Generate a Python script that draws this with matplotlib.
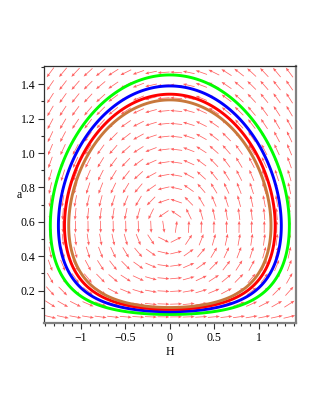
import numpy as np
import matplotlib
matplotlib.use("Agg")
import matplotlib.pyplot as plt
from matplotlib.ticker import MultipleLocator, FuncFormatter

# ---- data ----
# system: H' = k*(c - a^2), a' = a*H   (direction field)
k_coef = 1.55
c_coef = 1.0 / 3.0
# orbits: value of a at the top of each closed orbit (H = 0)
orbit_a_top = [1.454, 1.39, 1.342, 1.309]
orbit_colors = ["#00ff00", "#0000ff", "#ff0000", "#c8783c"]
x_range = (-1.415, 1.415)
y_range = (0.01, 1.506)
n_arrows = 20
x_ticks_major = [-1.0, -0.5, 0.0, 0.5, 1.0]
y_ticks_major = [0.2, 0.4, 0.6, 0.8, 1.0, 1.2, 1.4]

W, Hh = 321, 415
fig = plt.figure(figsize=(W / 100, Hh / 100), dpi=100)
left, right, top, bottom = 44 / W, 295.7 / W, 1 - 66 / Hh, 1 - 323.3 / Hh
ax = fig.add_axes([left, bottom, right - left, top - bottom])
ax.set_xlim(*x_range)
ax.set_ylim(*y_range)

# direction field
dx = (x_range[1] - x_range[0]) / n_arrows
dy = (y_range[1] - y_range[0]) / n_arrows
xs = x_range[0] + dx * (np.arange(n_arrows) + 0.5)
ys = y_range[0] + dy * (np.arange(n_arrows) + 0.5)
X, Y = np.meshgrid(xs, ys)
U = k_coef * (c_coef - Y ** 2)
V = Y * X
sx = (right - left) * W / (x_range[1] - x_range[0])
sy = (top - bottom) * Hh / (y_range[1] - y_range[0])
Us, Vs = U * sx, V * sy
nrm = np.hypot(Us, Vs)
nrm[nrm == 0] = 1
ax.quiver(X, Y, Us / nrm, Vs / nrm, angles="uv", scale_units="dots", scale=1 / 12,
          pivot="mid", color="#ff4444", alpha=0.85, width=0.75, units="dots",
          headwidth=4.0, headlength=5.0, headaxislength=4.6, zorder=1)

# orbits (level sets of the conserved quantity)
def energy(h, a):
    return h ** 2 / 2 - k_coef * (c_coef * np.log(a) - a ** 2 / 2)

hg = np.linspace(x_range[0], x_range[1], 900)
ag = np.linspace(0.02, y_range[1], 900)
HG, AG = np.meshgrid(hg, ag)
E = energy(HG, AG)
for at, col in zip(orbit_a_top, orbit_colors):
    ax.contour(HG, AG, E, levels=[energy(0.0, at)], colors=[col], linewidths=2.1, zorder=3)

# axes styling
for s in ["left", "top"]:
    ax.spines[s].set_color("#303030")
    ax.spines[s].set_linewidth(0.9)
for s in ["right", "bottom"]:
    ax.spines[s].set_color("#808080")
    ax.spines[s].set_linewidth(1.6)

ax.xaxis.set_major_locator(plt.FixedLocator(x_ticks_major))
ax.xaxis.set_minor_locator(MultipleLocator(0.1))
ax.yaxis.set_major_locator(plt.FixedLocator(y_ticks_major))
ax.yaxis.set_minor_locator(MultipleLocator(0.1))

def fmt(v, pos):
    if abs(v) < 1e-9:
        return "0"
    s = ("%g" % v) if abs(v - round(v)) < 1e-9 else ("%.1f" % v)
    return s.replace("-", "\u2212")

ax.xaxis.set_major_formatter(FuncFormatter(fmt))
ax.yaxis.set_major_formatter(FuncFormatter(lambda v, p: "%.1f" % v))
ax.tick_params(which="major", direction="out", length=4, width=0.8, color="#303030",
               labelsize=8.5, pad=2)
ax.tick_params(which="minor", direction="out", length=2.5, width=0.8, color="#303030")
for lab in ax.get_xticklabels() + ax.get_yticklabels():
    lab.set_family("Liberation Serif")

ax.set_xlabel("H", family="Liberation Serif", fontsize=8.5, labelpad=2)
ax.set_ylabel("a", family="Liberation Serif", fontsize=8.5, rotation=0, labelpad=1, va="center")

fig.savefig("out.png", dpi=100)
